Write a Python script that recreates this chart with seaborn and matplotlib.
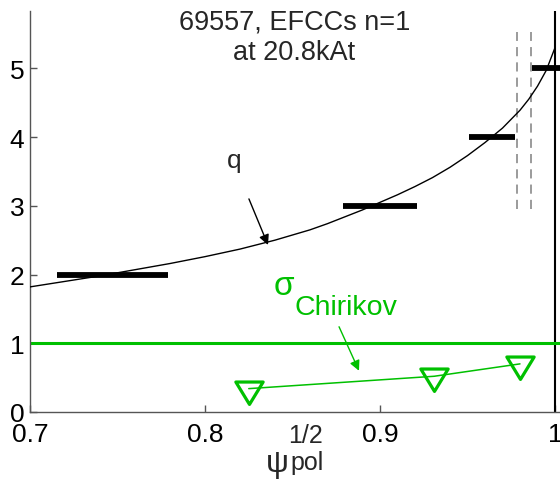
import matplotlib
matplotlib.use("Agg")
import matplotlib.pyplot as plt
import seaborn as sns
import pandas as pd
from matplotlib.path import Path

# safety factor profile q(psi_pol^1/2)
psi = [0.70, 0.72, 0.74, 0.76, 0.78, 0.80, 0.82, 0.84, 0.86, 0.87, 0.88,
       0.89, 0.90, 0.91, 0.92, 0.93, 0.94, 0.95, 0.96, 0.97, 0.98, 0.985,
       0.99, 0.995, 1.00]
q = [1.82, 1.90, 1.98, 2.07, 2.16, 2.26, 2.37, 2.50, 2.65, 2.74, 2.84,
     2.94, 3.05, 3.16, 3.28, 3.41, 3.56, 3.73, 3.92, 4.13, 4.39, 4.55,
     4.74, 4.97, 5.30]

# rational surfaces and island widths (bars)
rational_q = [2, 3, 4, 5]
island_start = [0.7154, 0.879, 0.951, 0.987]
island_end = [0.779, 0.921, 0.977, 1.01]

# vertical markers near the edge
dashed_x = [0.978, 0.986]
dashed_ymin, dashed_ymax = 2.96, 5.53

# Chirikov parameter
chirikov_psi = [0.825, 0.931, 0.980]
chirikov_sigma = [0.34, 0.52, 0.70]
chirikov_threshold = 1.0

GREEN = "#00c000"

sns.set_theme(style="ticks")
plt.rcParams["font.family"] = ["Liberation Sans", "DejaVu Sans"]

fig = plt.figure(figsize=(5.6, 4.89), dpi=100)
ax = fig.add_axes([30 / 560, 76 / 489, 530 / 560, 401 / 489])

x_lo, x_hi = 0.7, 0.7 + 530 / 1750
y_lo, y_hi = 0.0, 401 / 68.74
ax.set_xlim(x_lo, x_hi)
ax.set_ylim(y_lo, y_hi)

# q profile
qdf = pd.DataFrame({"psi": psi, "q": q})
sns.lineplot(data=qdf, x="psi", y="q", ax=ax, color="black", lw=1.0,
             sort=False, estimator=None, zorder=3)

# island bars on rational surfaces
ax.hlines(rational_q, island_start, island_end, colors="black", lw=4.2,
          zorder=4, clip_on=True)

# dashed vertical markers
ax.vlines(dashed_x, dashed_ymin, dashed_ymax, colors="#808080", lw=1.1,
          linestyles=(0, (6, 4)), zorder=2)

# plasma edge
ax.axvline(1.0, color="black", lw=1.5, zorder=2)

# Chirikov = 1 threshold
ax.axhline(chirikov_threshold, color=GREEN, lw=2.2, zorder=2)

# Chirikov parameter: connecting line and open down-triangles
cdf = pd.DataFrame({"psi": chirikov_psi, "sigma": chirikov_sigma})
sns.lineplot(data=cdf, x="psi", y="sigma", ax=ax, color=GREEN, lw=1.1,
             sort=False, estimator=None, zorder=3)
tri = Path([(-1.0, 0.547), (1.0, 0.547), (0.0, -1.093), (-1.0, 0.547)],
           [Path.MOVETO, Path.LINETO, Path.LINETO, Path.CLOSEPOLY])
ax.plot(chirikov_psi, chirikov_sigma, linestyle="none", marker=tri,
        markersize=21.5, markerfacecolor="none", markeredgecolor=GREEN,
        markeredgewidth=2.3, zorder=5)

# labels with arrows
ax.text(0.8169, 3.56, "q", fontsize=19, ha="center", va="baseline")
ax.annotate("", xy=(0.836, 2.43), xytext=(0.8251, 3.10),
            arrowprops=dict(arrowstyle="-|>", color="black", lw=1.0,
                            mutation_scale=15, shrinkA=0, shrinkB=0))

ax.text(0.8451, 1.717, "σ", fontsize=24, color=GREEN, ha="center",
        va="baseline")
ax.text(0.8514, 1.426, "Chirikov", fontsize=20.5, color=GREEN, ha="left",
        va="baseline")
ax.annotate("", xy=(0.888, 0.60), xytext=(0.8766, 1.24),
            arrowprops=dict(arrowstyle="-|>", color=GREEN, lw=1.0,
                            mutation_scale=15, shrinkA=0, shrinkB=0))

# heading
ax.text(0.851, 5.572, "69557, EFCCs n=1", fontsize=19.5, ha="center",
        va="baseline")
ax.text(0.851, 5.135, "at 20.8kAt", fontsize=19.5, ha="center",
        va="baseline")

# axis label psi_pol^(1/2)
ax.text(0.835, -0.853, "ψ", fontsize=23, ha="left", va="baseline",
        clip_on=False)
ax.text(0.8474, -0.436, "1/2", fontsize=18, ha="left", va="baseline",
        clip_on=False)
ax.text(0.8486, -0.829, "pol", fontsize=18, ha="left", va="baseline",
        clip_on=False)

# axes styling
ax.set_xticks([0.7, 0.8, 0.9, 1.0])
ax.set_xticklabels(["0.7", "0.8", "0.9", "1"])
ax.set_yticks([0, 1, 2, 3, 4, 5])
ax.set_yticklabels(["0", "1", "2", "3", "4", "5"])
ax.tick_params(axis="both", direction="in", length=5, width=1,
               color="#555555", labelsize=19, labelcolor="black")
ax.tick_params(axis="x", pad=7)
ax.tick_params(axis="y", pad=4)
ax.set_xlabel("")
ax.set_ylabel("")
for side in ("top", "right"):
    ax.spines[side].set_visible(False)
for side in ("left", "bottom"):
    ax.spines[side].set_color("#555555")
    ax.spines[side].set_linewidth(1.0)
ax.set_facecolor("white")
fig.patch.set_facecolor("white")

fig.savefig("out.png", dpi=100)
